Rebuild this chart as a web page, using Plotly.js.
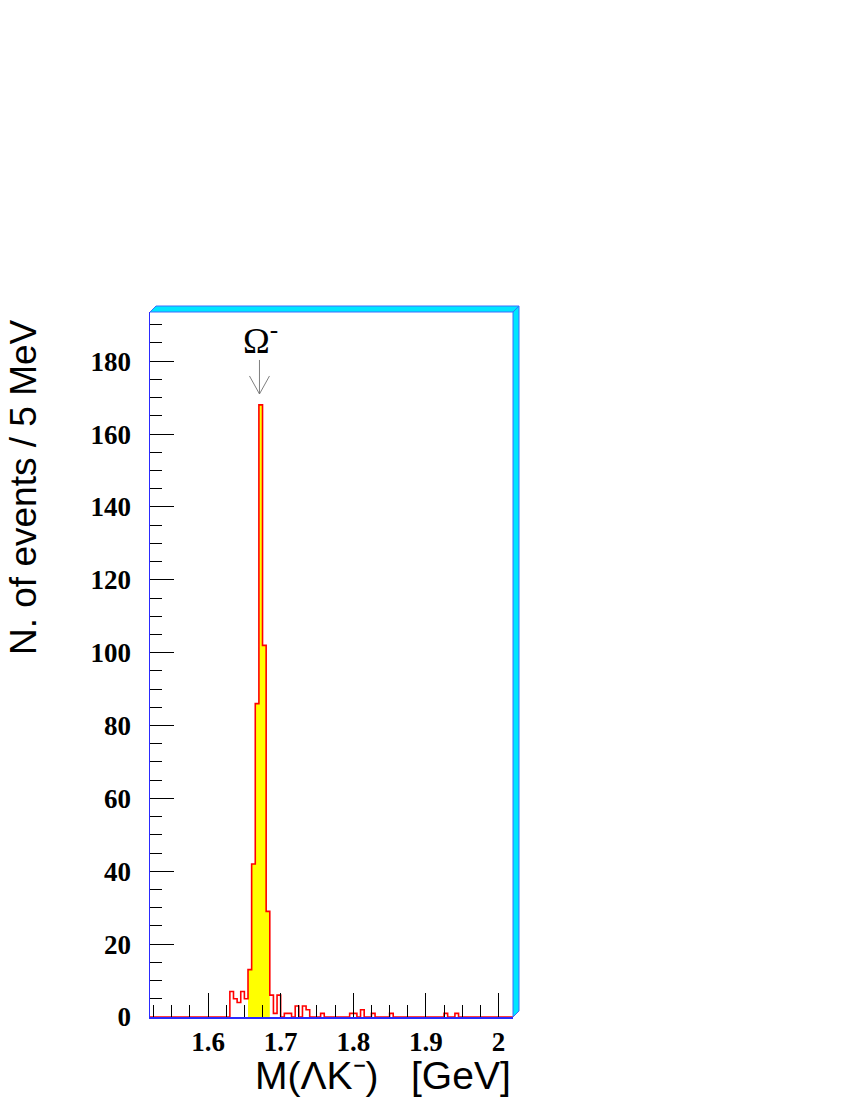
<!DOCTYPE html>
<html>
<head>
<meta charset="utf-8">
<script src="https://cdn.plot.ly/plotly-3.0.1.min.js"></script>
<style>
html,body{margin:0;padding:0;background:#ffffff;}
#chart{width:850px;height:1100px;}
</style>
</head>
<body>
<div id="chart"></div>
<script>
// ---- data: M(Lambda K-) histogram, 5 MeV bins from 1.52 to 2.02 GeV ----
const binLowEdge = 1.52;   // GeV
const binWidth = 0.005;    // GeV (5 MeV)
const eventCounts = [
  0,0,0,0,0,0,0,0,0,0,
  0,0,0,0,0,0,0,0,0,0,
  0,0,7,5,4,7,5,13,42,86,
  168,102,29,6,1,6,0,1,1,0,
  3,0,3,2,0,0,0,1,0,0,
  0,0,0,0,0,1,1,0,2,0,
  0,1,0,0,0,0,1,0,0,0,
  0,0,0,0,0,0,0,0,0,0,
  0,1,0,0,1,0,0,0,0,0,
  0,0,0,0,0,0,0,0,0,0
];
const signalWindow = [1.655, 1.685];   // yellow-filled Omega- region (GeV)
const omegaMass = 1.672;               // GeV, position of the Omega- label/arrow
const xTickValues = [1.6, 1.7, 1.8, 1.9, 2.0];
const xTickLabels = ['1.6', '1.7', '1.8', '1.9', '2'];
const yTickValues = [0, 20, 40, 60, 80, 100, 120, 140, 160, 180];
const yTickLabels = ['0', '20', '40', '60', '80', '100', '120', '140', '160', '180'];
const xRange = [1.52, 2.02];
const yRange = [0, 193.5];

// ---- build step outline from bins ----
const nBins = eventCounts.length;
const edges = [];
for (let i = 0; i <= nBins; i++) edges.push(+(binLowEdge + i * binWidth).toFixed(4));
const stepY = eventCounts.concat([eventCounts[nBins - 1]]);

const sigX = [], sigY = [];
for (let i = 0; i < nBins; i++) {
  const lo = edges[i], hi = edges[i + 1];
  if (lo >= signalWindow[0] - 1e-9 && hi <= signalWindow[1] + 1e-9) {
    sigX.push(lo); sigY.push(eventCounts[i]);
    if (Math.abs(hi - signalWindow[1]) < 1e-9) { sigX.push(hi); sigY.push(eventCounts[i]); }
  }
}

const traces = [
  {
    type: 'scatter', mode: 'lines', x: sigX, y: sigY,
    line: {shape: 'hv', width: 0, color: '#ffff00'},
    fill: 'tozeroy', fillcolor: '#ffff00', hoverinfo: 'skip', showlegend: false
  },
  {
    type: 'scatter', mode: 'lines', x: edges, y: stepY,
    line: {shape: 'hv', width: 1.6, color: '#ff0000'},
    hoverinfo: 'skip', showlegend: false
  }
];

// plot area geometry (pixels)
const M = {l: 150, r: 337, t: 312, b: 83};
const W = 850 - M.l - M.r, H = 1100 - M.t - M.b;
const dx = 6 / W, dy = 6 / H;
const px2paperX = p => (p - M.l) / W;
const px2paperY = p => (1100 - M.b - p) / H;

const tickFont = {family: 'Liberation Serif, Times New Roman, serif', size: 27, color: '#000', weight: 'bold'};
const titleFont = {family: 'Liberation Sans, Arial, sans-serif', size: 37, color: '#000'};
const arrowTip = Math.max(...eventCounts) + 3;

const layout = {
  width: 850, height: 1100,
  margin: M,
  paper_bgcolor: '#ffffff', plot_bgcolor: '#ffffff',
  showlegend: false,
  xaxis: {
    range: xRange, tickmode: 'array', tickvals: xTickValues, ticktext: xTickLabels,
    ticks: 'inside', ticklen: 24, tickwidth: 1, tickcolor: '#000',
    showline: true, linecolor: '#2a2aff', linewidth: 1.5,
    showgrid: false, zeroline: false, tickfont: tickFont,
    minor: {tickmode: 'linear', tick0: 1.6, dtick: 0.025, ticks: 'inside', ticklen: 12, tickwidth: 1, tickcolor: '#000', showgrid: false}
  },
  yaxis: {
    range: yRange, tickmode: 'array', tickvals: yTickValues, ticktext: yTickLabels,
    ticks: 'inside', ticklen: 24, tickwidth: 1, tickcolor: '#000',
    showline: true, linecolor: '#2a2aff', linewidth: 1.5,
    showgrid: false, zeroline: false, tickfont: tickFont, ticklabelstandoff: 12,
    minor: {tickmode: 'linear', tick0: 0, dtick: 5, ticks: 'inside', ticklen: 12, tickwidth: 1, tickcolor: '#000', showgrid: false}
  },
  shapes: [
    {type: 'path', xref: 'paper', yref: 'paper',
     path: `M 0,1 L ${dx},${1 + dy} L ${1 + dx},${1 + dy} L 1,1 Z`,
     fillcolor: '#00e6ff', line: {color: '#3a6cff', width: 1}, layer: 'above'},
    {type: 'path', xref: 'paper', yref: 'paper',
     path: `M 1,1 L ${1 + dx},${1 + dy} L ${1 + dx},${dy} L 1,0 Z`,
     fillcolor: '#00e6ff', line: {color: '#3a6cff', width: 1}, layer: 'above'},
    // thin open arrow pointing at the Omega- peak
    {type: 'path', xref: 'x', yref: 'y', xsizemode: 'pixel', ysizemode: 'pixel',
     xanchor: omegaMass - 0.0012, yanchor: arrowTip,
     path: 'M 0,34 L 0,0 M -10,18 L 0,0 L 10,18',
     line: {color: '#707070', width: 0.9}, layer: 'above'}
  ],
  annotations: [
    {xref: 'paper', yref: 'paper', x: px2paperX(23), y: px2paperY(487),
     text: 'N. of events / 5 MeV', textangle: -90, showarrow: false,
     xanchor: 'center', yanchor: 'middle', font: titleFont},
    {xref: 'paper', yref: 'paper', x: 1, y: px2paperY(1075),
     text: 'M(\u039BK\u207B)\u00A0\u00A0\u00A0[GeV]', showarrow: false,
     xanchor: 'right', yanchor: 'middle',
     font: {family: 'Liberation Sans, Arial, sans-serif', size: 39, color: '#000'}},
    {xref: 'x', yref: 'paper', x: omegaMass, y: px2paperY(338),
     text: '\u03A9<sup>-</sup>', showarrow: false, xanchor: 'center', yanchor: 'middle',
     font: {family: 'Liberation Serif, Times New Roman, serif', size: 36, color: '#000'}}
  ]
};

Plotly.newPlot('chart', traces, layout, {displayModeBar: false, staticPlot: true});
</script>
</body>
</html>
